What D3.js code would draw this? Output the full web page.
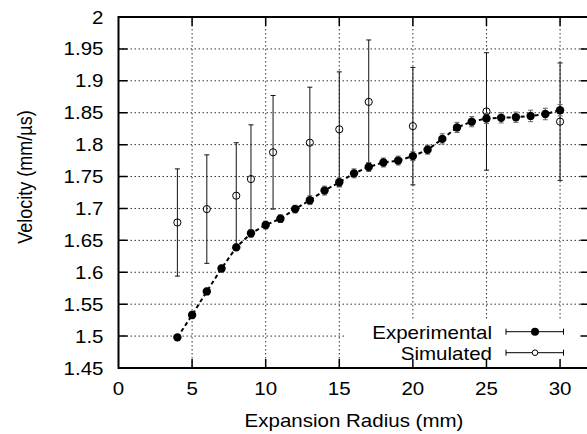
<!DOCTYPE html>
<html>
<head>
<meta charset="utf-8">
<script src="https://cdn.jsdelivr.net/npm/d3@7"></script>
<style>
  body { margin: 0; background: #fff; }
  text { font-family: "Liberation Sans", Arial, sans-serif; font-size: 18px; fill: #000; }
</style>
</head>
<body>
<div id="chart"></div>
<script>
// experimental series
var expX = [4, 5, 6, 7, 8, 9, 10, 11, 12, 13, 14, 15, 16, 17, 18, 19, 20, 21, 22, 23, 24, 25, 26, 27, 28, 29, 30];
var expY = [1.498, 1.533, 1.570, 1.606, 1.639, 1.661, 1.674, 1.684, 1.699, 1.713, 1.728, 1.741, 1.755, 1.765,
            1.772, 1.775, 1.782, 1.792, 1.809, 1.827, 1.836, 1.841, 1.842, 1.843, 1.845, 1.848, 1.854];
var expErr = [0.004, 0.005, 0.005, 0.005, 0.005, 0.006, 0.006, 0.006, 0.006, 0.007, 0.007, 0.007, 0.007, 0.007,
              0.007, 0.007, 0.007, 0.007, 0.008, 0.008, 0.008, 0.008, 0.008, 0.008, 0.009, 0.009, 0.009];

// simulated series
var simX = [4, 6, 8, 9, 10.5, 13, 15, 17, 20, 25, 30];
var simY = [1.678, 1.699, 1.720, 1.746, 1.788, 1.803, 1.824, 1.867, 1.829, 1.852, 1.836];
var simErr = [0.084, 0.085, 0.083, 0.085, 0.089, 0.087, 0.090, 0.097, 0.092, 0.092, 0.092];

// ticks
var xTicks = [0, 5, 10, 15, 20, 25, 30];
var yTicks = [1.45, 1.5, 1.55, 1.6, 1.65, 1.7, 1.75, 1.8, 1.85, 1.9, 1.95, 2];
var seriesNames = ["Experimental", "Simulated"];

var W = 587, H = 434;
var pL = 118.5, pR = 589.5, pT = 17, pB = 368;
var stretch = 1.14;

var svg = d3.select("#chart").append("svg")
    .attr("width", W)
    .attr("height", H);

var x = d3.scaleLinear().domain([0, 32]).range([pL, pR]);
var y = d3.scaleLinear().domain([1.45, 2]).range([pB, pT]);

function label(px, py, s, anchor, rot) {
    var g = svg.append("g")
        .attr("transform", "translate(" + px + "," + py + ") scale(" + stretch + ",1)" + (rot ? " rotate(-90)" : ""));
    g.append("text").attr("text-anchor", anchor).text(s);
}

// grid
var grid = svg.append("g");
grid.selectAll(".gx").data(xTicks.slice(1)).enter().append("line")
    .attr("x1", d => x(d)).attr("x2", d => x(d))
    .attr("y1", pT).attr("y2", pB)
    .attr("stroke", "#333").attr("stroke-width", 1).attr("stroke-dasharray", "1.5,2.5");
grid.selectAll(".gy").data(yTicks.slice(1, -1)).enter().append("line")
    .attr("y1", d => y(d)).attr("y2", d => y(d))
    .attr("x1", pL).attr("x2", pR)
    .attr("stroke", "#333").attr("stroke-width", 1).attr("stroke-dasharray", "1.5,2.5");

// key background hides the grid
svg.append("rect")
    .attr("x", 345).attr("y", 321).attr("width", pR - 345).attr("height", pB - 321)
    .attr("fill", "#fff");

// border
svg.append("rect")
    .attr("x", pL).attr("y", pT).attr("width", pR - pL).attr("height", pB - pT)
    .attr("fill", "none").attr("stroke", "#000").attr("stroke-width", 2);

// ticks (inward, mirrored)
var tl = 9;
svg.selectAll(".tx").data(xTicks.slice(1)).enter().append("path")
    .attr("d", d => "M" + x(d) + "," + pB + "v" + (-tl) + "M" + x(d) + "," + pT + "v" + tl)
    .attr("stroke", "#000").attr("stroke-width", 1.5);
svg.selectAll(".ty").data(yTicks.slice(1, -1)).enter().append("path")
    .attr("d", d => "M" + pL + "," + y(d) + "h" + tl + "M" + pR + "," + y(d) + "h" + (-tl))
    .attr("stroke", "#000").attr("stroke-width", 1.5);

// tick labels
xTicks.forEach(function(t) { label(x(t), 395, String(t), "middle"); });
yTicks.forEach(function(t) { label(103.5, y(t) + 6.5, String(t), "end"); });

// axis titles
label((pL + pR) / 2, 426.5, "Expansion Radius (mm)", "middle");
label(31.5, 177, "Velocity (mm/\u00b5s)", "middle", true);

// simulated error bars + open circles
var sim = simX.map((d, i) => ({x: d, y: simY[i], e: simErr[i]}));
var cap = 2.5;
svg.append("g").selectAll("path").data(sim).enter().append("path")
    .attr("d", d => "M" + x(d.x) + "," + y(d.y - d.e) + "V" + y(d.y + d.e) +
        "M" + (x(d.x) - cap) + "," + y(d.y - d.e) + "h" + (2 * cap) +
        "M" + (x(d.x) - cap) + "," + y(d.y + d.e) + "h" + (2 * cap))
    .attr("stroke", "#111").attr("stroke-width", 1).attr("fill", "none");
svg.append("g").selectAll("circle").data(sim).enter().append("circle")
    .attr("cx", d => x(d.x)).attr("cy", d => y(d.y)).attr("r", 3.6)
    .attr("fill", "none").attr("stroke", "#000").attr("stroke-width", 1);

// experimental: dashed line, error bars, filled circles
var exp = expX.map((d, i) => ({x: d, y: expY[i], e: expErr[i]}));
svg.append("path")
    .datum(exp)
    .attr("d", d3.line().x(d => x(d.x)).y(d => y(d.y)))
    .attr("fill", "none").attr("stroke", "#000").attr("stroke-width", 2)
    .attr("stroke-dasharray", "4,3");
svg.append("g").selectAll("path").data(exp).enter().append("path")
    .attr("d", d => "M" + x(d.x) + "," + y(d.y - d.e) + "V" + y(d.y + d.e) +
        "M" + (x(d.x) - cap) + "," + y(d.y - d.e) + "h" + (2 * cap) +
        "M" + (x(d.x) - cap) + "," + y(d.y + d.e) + "h" + (2 * cap))
    .attr("stroke", "#666").attr("stroke-width", 1).attr("fill", "none");
svg.append("g").selectAll("circle").data(exp).enter().append("circle")
    .attr("cx", d => x(d.x)).attr("cy", d => y(d.y)).attr("r", 4.2)
    .attr("fill", "#000");

// key
var keyY = [331.7, 352.7];
seriesNames.forEach(function(name, i) {
    var ky = keyY[i];
    label(492, ky + 6.8, name, "end");
    svg.append("path")
        .attr("d", "M506," + ky + "H563.5M506," + (ky - 3) + "v6M563.5," + (ky - 3) + "v6")
        .attr("stroke", "#000").attr("stroke-width", 1).attr("fill", "none");
    if (i === 0) {
        svg.append("circle").attr("cx", 535).attr("cy", ky).attr("r", 4).attr("fill", "#000");
    } else {
        svg.append("circle").attr("cx", 535).attr("cy", ky).attr("r", 2.8)
            .attr("fill", "#fff").attr("stroke", "#000").attr("stroke-width", 1);
    }
});
</script>
</body>
</html>
